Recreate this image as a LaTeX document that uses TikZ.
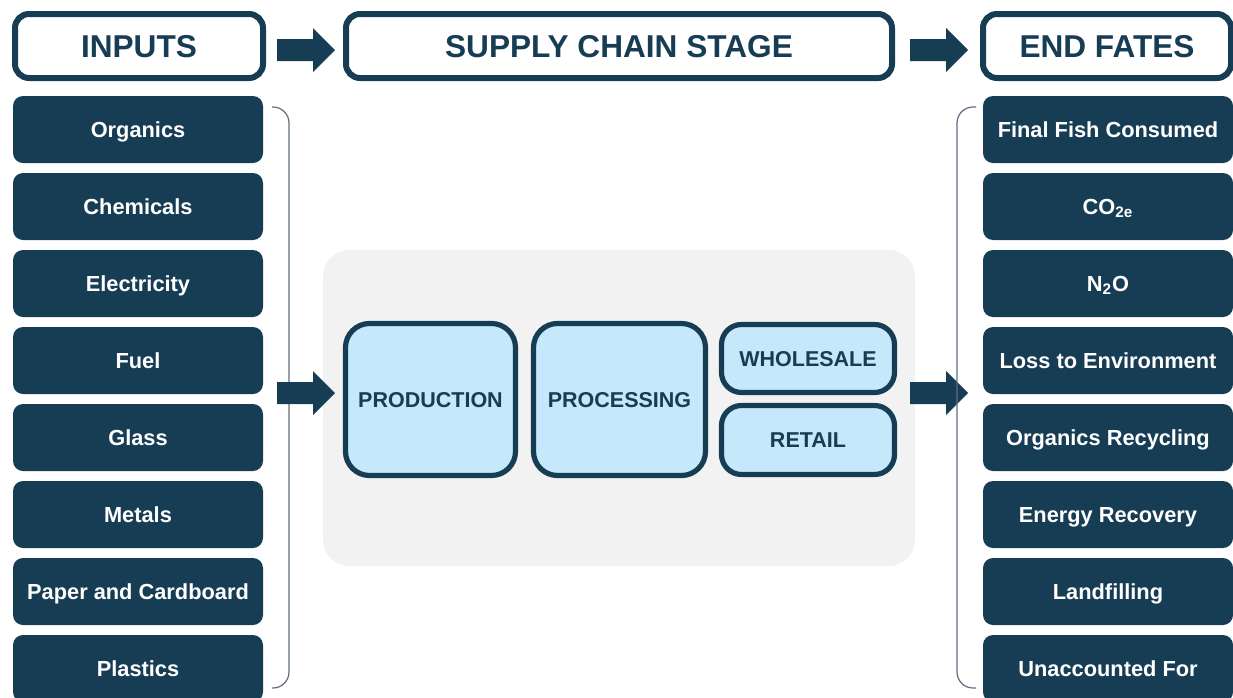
\documentclass[tikz,border=0pt]{standalone}
\usepackage{fontspec}
\setmainfont{Liberation Sans}
\definecolor{navy}{HTML}{173D54}
\definecolor{lightblue}{HTML}{C5E9FB}
\definecolor{panelgray}{HTML}{F2F2F2}
\definecolor{bracketgray}{HTML}{5F6E7E}
\begin{document}
\begin{tikzpicture}[x = 0.5pt, y = -0.5pt,
        header/.style = {draw = navy, line width = 3pt, rounded corners = 7pt, fill = white, minimum width = 124pt, minimum height = 32pt, text = navy, text height = 11.3pt, text depth = 0pt, font = \fontsize{15.8}{18}\selectfont\bfseries},
        item/.style = {fill = navy, rounded corners = 5pt, minimum width = 125pt, minimum height = 33.5pt, text = white, text height = 7.8pt, text depth = 0pt, font = \fontsize{10.9}{13}\selectfont\bfseries},
        stage/.style = {draw = navy, line width = 2.6pt, fill = lightblue, text = navy, text height = 7.7pt, text depth = 0pt, font = \fontsize{10.75}{13}\selectfont\bfseries}]
        \useasboundingbox (0,0) rectangle (1233,697);
        % headers
        \node[header] (inputs) at (139,46) {INPUTS};
        \node[header, minimum width = 273pt] (stage) at (619,46) {SUPPLY CHAIN STAGE};
        \node[header] (fates) at (1107,46) {END FATES};
        \fill[navy, shift = {(277,50)}] (0,-11) -- (36,-11) -- (36,-22) -- (58,0) -- (36,22) -- (36,11) -- (0,11) -- cycle;
        \fill[navy, shift = {(910,50)}] (0,-11) -- (36,-11) -- (36,-22) -- (58,0) -- (36,22) -- (36,11) -- (0,11) -- cycle;
        % inputs
        \begin{scope}[every node/.append style = {item}]
            \node (organics) at (138,129.5) {Organics};
            \node (chemicals) at (138,206.5) {Chemicals};
            \node (electricity) at (138,283.5) {Electricity};
            \node (fuel) at (138,360.5) {Fuel};
            \node (glass) at (138,437.5) {Glass};
            \node (metals) at (138,514.5) {Metals};
            \node (paper) at (138,591.5) {Paper and Cardboard};
            \node (plastics) at (138,668.5) {Plastics};
        \end{scope}
        \draw[bracketgray, line width = 0.6pt, rounded corners = 8pt] (272,107) -- (289,107) -- (289,688) -- (272,688);
        % supply chain
        \fill[panelgray, rounded corners = 13pt] (323,250) rectangle (915,566);
        \fill[navy, shift = {(277,393)}] (0,-11) -- (36,-11) -- (36,-22) -- (58,0) -- (36,22) -- (36,11) -- (0,11) -- cycle;
        \begin{scope}[every node/.append style = {stage}]
            \node[rounded corners = 12pt, minimum width = 85pt, minimum height = 76pt] (production) at (430.5,399.5) {PRODUCTION};
            \node[rounded corners = 12pt, minimum width = 86pt, minimum height = 76pt] (processing) at (619.5,399.5) {PROCESSING};
            \node[rounded corners = 10pt, minimum width = 86.5pt, minimum height = 34pt] (wholesale) at (808,358.5) {WHOLESALE};
            \node[rounded corners = 10pt, minimum width = 86.5pt, minimum height = 34.5pt] (retail) at (808,440) {RETAIL};
        \end{scope}
        \fill[navy, shift = {(910,393)}] (0,-11) -- (36,-11) -- (36,-22) -- (58,0) -- (36,22) -- (36,11) -- (0,11) -- cycle;
        % end fates
        \draw[bracketgray, line width = 0.6pt, rounded corners = 8pt] (976,107) -- (957,107) -- (957,688) -- (976,688);
        \begin{scope}[every node/.append style = {item}]
            \node (consumed) at (1108,129.5) {Final Fish Consumed};
            \node (co2e) at (1108,206.5) {CO\textsubscript{2e}};
            \node (n2o) at (1108,283.5) {N\textsubscript{2}O};
            \node (loss) at (1108,360.5) {Loss to Environment};
            \node (recycling) at (1108,437.5) {Organics Recycling};
            \node (recovery) at (1108,514.5) {Energy Recovery};
            \node (landfill) at (1108,591.5) {Landfilling};
            \node (unaccounted) at (1108,668.5) {Unaccounted For};
        \end{scope}
    \end{tikzpicture}
\end{document}
